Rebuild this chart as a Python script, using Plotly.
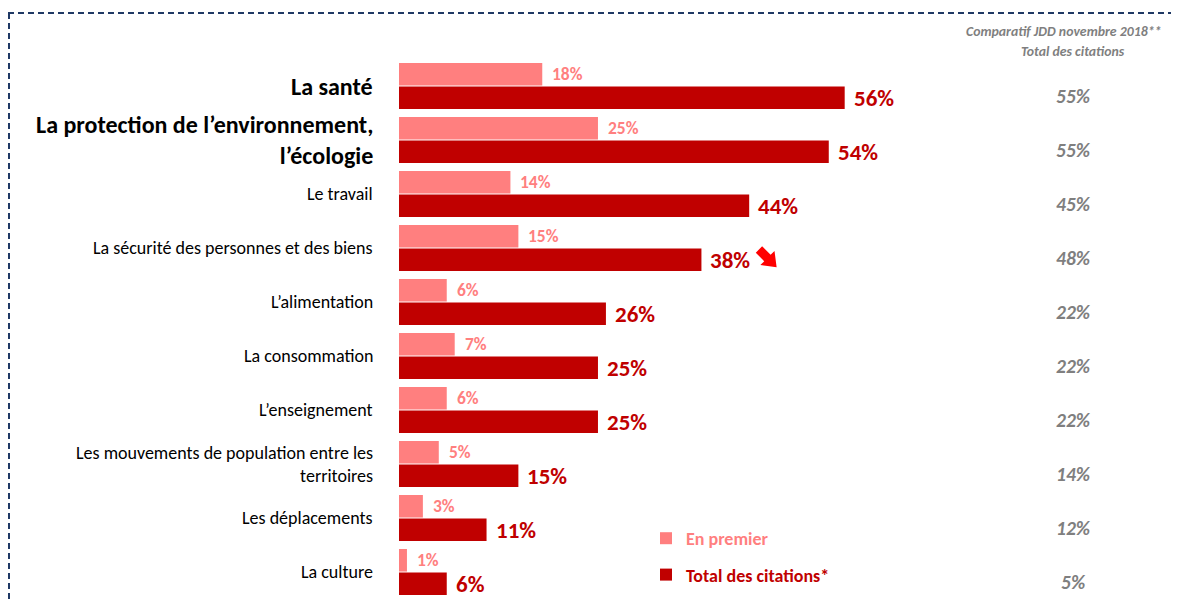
import math
import plotly.graph_objects as go

categories = ["La santé", "La protection de l’environnement, l’écologie", "Le travail",
              "La sécurité des personnes et des biens", "L’alimentation", "La consommation",
              "L’enseignement", "Les mouvements de population entre les territoires",
              "Les déplacements", "La culture"]
label_text = ["<b>La santé</b>", "<b>La protection de l’environnement,<br>l’écologie</b>", "Le travail",
              "La sécurité des personnes et des biens", "L’alimentation", "La consommation",
              "L’enseignement", "Les mouvements de population entre les<br>territoires",
              "Les déplacements", "La culture"]
label_size = [24, 24, 18, 18, 18, 18, 18, 18, 18, 18]
en_premier = [18, 25, 14, 15, 6, 7, 6, 5, 3, 1]
total = [56, 54, 44, 38, 26, 25, 25, 15, 11, 6]
comparatif = [55, 55, 45, 48, 22, 22, 22, 14, 12, 5]
header1 = "Comparatif JDD novembre 2018**"
header2 = "Total des citations"
arrow_down = "La sécurité des personnes et des biens"

LIGHT = "#FF7F7F"
DARK = "#C00000"
GRAY = "#7F7F7F"
NAVY = "#1F3864"
FONT = "Carlito, Calibri, Lato, sans-serif"

# page has an 8px body margin; plot area in window pixels: x 399..1171, y 59..599
PW, PH = 772, 540
XMAX = 97.0
PXU = PW / XMAX


def px(X):
    return (X - 399) / PW


def py(Y):
    return (599 - Y) / PH


fig = go.Figure()
fig.add_trace(go.Bar(y=categories, x=en_premier, orientation="h", marker_color=LIGHT,
                     name="<b><span style='color:%s'>En premier</span></b>" % LIGHT,
                     legendgroup="a", marker_line_width=0))
fig.add_trace(go.Bar(y=categories, x=total, orientation="h", marker_color=DARK,
                     name="<b><span style='color:%s'>Total des citations*</span></b>" % DARK,
                     legendgroup="b", marker_line_width=0))

ann = []
for c, t, s in zip(categories, label_text, label_size):
    ann.append(dict(xref="paper", yref="y", x=px(375), y=c, text=t, showarrow=False,
                    xanchor="right", yanchor="middle", align="right",
                    font=dict(size=s, color="black", family=FONT)))
for c, v in zip(categories, en_premier):
    ann.append(dict(xref="x", yref="y", x=v, y=c, text="<b>%d%%</b>" % v, showarrow=False,
                    xanchor="left", yanchor="middle", xshift=8, yshift=12,
                    font=dict(size=17.5, color=LIGHT, family=FONT)))
for c, v in zip(categories, total):
    ann.append(dict(xref="x", yref="y", x=v, y=c, text="<b>%d%%</b>" % v, showarrow=False,
                    xanchor="left", yanchor="middle", xshift=7, yshift=-12,
                    font=dict(size=23, color=DARK, family=FONT)))
for c, v in zip(categories, comparatif):
    ann.append(dict(xref="x", yref="y", x=(1073 - 399) / PXU, y=c, text="<b><i>%d%%</i></b>" % v,
                    showarrow=False, xanchor="center", yanchor="middle", yshift=-10,
                    font=dict(size=19.5, color=GRAY, family=FONT)))
ann.append(dict(xref="paper", yref="paper", x=px(964), y=py(32),
                text="<b><i>%s</i></b>" % header1, showarrow=False, xanchor="left", yanchor="middle",
                font=dict(size=13.8, color=GRAY, family=FONT)))
ann.append(dict(xref="paper", yref="paper", x=px(1073), y=py(52),
                text="<b><i>%s</i></b>" % header2, showarrow=False, xanchor="center", yanchor="middle",
                font=dict(size=13.8, color=GRAY, family=FONT)))

# block arrow (pointing down-right) next to the 38% label
ai = categories.index(arrow_down)
base = [(-12, -4.5), (0, -4.5), (0, -10), (13, 0), (0, 10), (0, 4.5), (-12, 4.5)]
ang = math.radians(45)
cx_px = 399 + total[ai] * PXU + 66  # window px
cy_px = 258
pts = []
for bx, by in base:
    rx = bx * math.cos(ang) - by * math.sin(ang)
    ry = bx * math.sin(ang) + by * math.cos(ang)
    pts.append(((cx_px + rx - 399) / PXU, py(cy_px + ry)))
path = "M " + " L ".join("%.4f,%.4f" % p for p in pts) + " Z"

shapes = [
    dict(type="line", xref="paper", yref="paper", x0=px(8), x1=1.2,
         y0=py(13), y1=py(13), line=dict(color=NAVY, width=2, dash="6px,4px")),
    dict(type="line", xref="paper", yref="paper", x0=px(9), x1=px(9),
         y0=py(13), y1=py(620), line=dict(color=NAVY, width=2, dash="6px,4px")),
    dict(type="path", xref="x", yref="paper", path=path, fillcolor="#FF0000",
         line=dict(width=0)),
]

fig.update_layout(
    width=1179, height=601,
    margin=dict(l=391, r=16, t=51, b=10),
    paper_bgcolor="white", plot_bgcolor="white",
    barmode="group", bargap=0.13, bargroupgap=0.04,
    font=dict(family=FONT),
    xaxis=dict(range=[0, XMAX], visible=False, fixedrange=True),
    yaxis=dict(range=[9.5, -0.5], visible=False, type="category"),
    showlegend=True,
    legend=dict(x=px(646), y=py(520), xanchor="left", yanchor="top",
                bgcolor="rgba(0,0,0,0)", font=dict(size=18, family=FONT),
                tracegroupgap=10, traceorder="grouped"),
    annotations=ann, shapes=shapes,
)
fig.write_html("out.html")
